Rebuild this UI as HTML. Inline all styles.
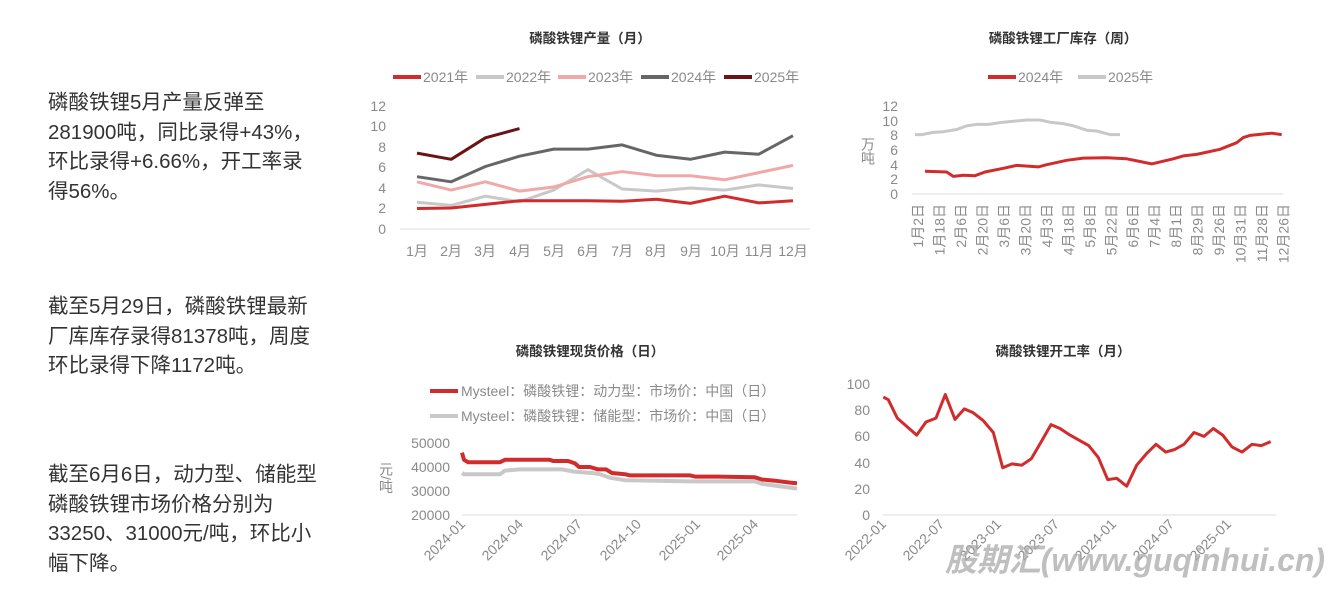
<!DOCTYPE html>
<html><head><meta charset="utf-8"><style>
body{margin:0;width:1344px;height:590px;background:#fff;overflow:hidden;position:relative;font-family:"Liberation Sans","Noto Sans CJK SC",sans-serif}
.t{position:absolute;left:48px;font-size:20.5px;color:#333;line-height:29.5px}
svg{position:absolute;left:0;top:0}
text{font-family:"Liberation Sans","Noto Sans CJK SC",sans-serif;fill:#8a8a8a;font-size:14px}
.ti{fill:#333;font-weight:bold;font-size:13.5px}
</style></head><body>
<div class="t" style="top:88px">磷酸铁锂5月产量反弹至<br>281900吨，同比录得+43%，<br>环比录得+6.66%，开工率录<br>得56%。</div>
<div class="t" style="top:292px">截至5月29日，磷酸铁锂最新<br>厂库库存录得81378吨，周度<br>环比录得下降1172吨。</div>
<div class="t" style="top:460px">截至6月6日，动力型、储能型<br>磷酸铁锂市场价格分别为<br>33250、31000元/吨，环比小<br>幅下降。</div>
<svg width="1344" height="590" id="s">
<text class="ti" x="590" y="43" text-anchor="middle">磷酸铁锂产量（月）</text>
<text class="ti" x="1063" y="43" text-anchor="middle">磷酸铁锂工厂库存（周）</text>
<text class="ti" x="590" y="356" text-anchor="middle">磷酸铁锂现货价格（日）</text>
<text class="ti" x="1063" y="356" text-anchor="middle">磷酸铁锂开工率（月）</text>
<g stroke-width="4">
<line x1="393" y1="77" x2="421" y2="77" stroke="#d22b2b"/><line x1="476" y1="77" x2="504" y2="77" stroke="#c8c8c8"/>
<line x1="558" y1="77" x2="586" y2="77" stroke="#f0a8a8"/><line x1="641" y1="77" x2="669" y2="77" stroke="#666"/>
<line x1="724" y1="77" x2="752" y2="77" stroke="#6b1416"/>
<line x1="988" y1="77" x2="1016" y2="77" stroke="#d22b2b"/><line x1="1078" y1="77" x2="1106" y2="77" stroke="#c8c8c8"/>
<line x1="430" y1="391" x2="458" y2="391" stroke="#d22b2b"/><line x1="430" y1="416" x2="458" y2="416" stroke="#c8c8c8"/>
</g>
<text x="423" y="82">2021年</text><text x="506" y="82">2022年</text><text x="588" y="82">2023年</text><text x="671" y="82">2024年</text><text x="754" y="82">2025年</text>
<text x="1018" y="82">2024年</text><text x="1108" y="82">2025年</text>
<text x="461" y="396">Mysteel：磷酸铁锂：动力型：市场价：中国（日）</text>
<text x="461" y="421">Mysteel：磷酸铁锂：储能型：市场价：中国（日）</text>
<line x1="400" y1="229" x2="810" y2="229" stroke="#ddd"/>
<g text-anchor="end"><text x="386" y="234">0</text><text x="386" y="213">2</text><text x="386" y="193">4</text><text x="386" y="172">6</text><text x="386" y="152">8</text><text x="386" y="131">10</text><text x="386" y="111">12</text></g>
<g text-anchor="middle"><text x="417" y="256">1月</text><text x="451" y="256">2月</text><text x="485" y="256">3月</text><text x="520" y="256">4月</text><text x="554" y="256">5月</text><text x="588" y="256">6月</text><text x="622" y="256">7月</text><text x="656" y="256">8月</text><text x="691" y="256">9月</text><text x="725" y="256">10月</text><text x="759" y="256">11月</text><text x="793" y="256">12月</text></g>
<line x1="912" y1="194" x2="1283" y2="194" stroke="#ddd"/>
<g text-anchor="end"><text x="898" y="199">0</text><text x="898" y="184">2</text><text x="898" y="170">4</text><text x="898" y="155">6</text><text x="898" y="140">8</text><text x="898" y="126">10</text><text x="898" y="111">12</text></g>
<text x="868" y="137" style="writing-mode:tb">万吨</text>
<g id="c2x"></g>
<line x1="462" y1="515" x2="797" y2="515" stroke="#ddd"/>
<g text-anchor="end"><text x="450" y="520">20000</text><text x="450" y="496">30000</text><text x="450" y="472">40000</text><text x="450" y="448">50000</text></g>
<text x="386" y="462" style="writing-mode:tb">元/吨</text>
<g text-anchor="end">
<text transform="translate(466,525) rotate(-45)">2024-01</text><text transform="translate(524,525) rotate(-45)">2024-04</text><text transform="translate(583,525) rotate(-45)">2024-07</text><text transform="translate(642,525) rotate(-45)">2024-10</text><text transform="translate(701,525) rotate(-45)">2025-01</text><text transform="translate(759,525) rotate(-45)">2025-04</text>
</g>
<line x1="883" y1="515" x2="1276" y2="515" stroke="#ddd"/>
<g text-anchor="end"><text x="870" y="520">0</text><text x="870" y="494">20</text><text x="870" y="468">40</text><text x="870" y="441">60</text><text x="870" y="415">80</text><text x="870" y="389">100</text></g>
<g text-anchor="end">
<text transform="translate(887,525) rotate(-45)">2022-01</text><text transform="translate(945,525) rotate(-45)">2022-07</text><text transform="translate(1002,525) rotate(-45)">2023-01</text><text transform="translate(1060,525) rotate(-45)">2023-07</text><text transform="translate(1117,525) rotate(-45)">2024-01</text><text transform="translate(1175,525) rotate(-45)">2024-07</text><text transform="translate(1232,525) rotate(-45)">2025-01</text>
</g>
<g id="lines" fill="none" stroke-width="3" stroke-linejoin="round"></g>
<text x="945" y="571" textLength="380" lengthAdjust="spacingAndGlyphs" style="font-size:32px;font-weight:bold;font-style:italic;fill:#aaa;opacity:.75">股期汇(www.guqinhui.cn)</text>
</svg>
<script>
var L=document.getElementById('lines'),ns='http://www.w3.org/2000/svg';
function pl(pts,c,w){var p=document.createElementNS(ns,'polyline');p.setAttribute('points',pts.map(a=>a[0].toFixed(1)+','+a[1].toFixed(1)).join(' '));p.setAttribute('stroke',c);if(w)p.setAttribute('stroke-width',w);L.appendChild(p);}
function c1(d,c){pl(d.map((v,i)=>[417+i*34.18,229-v*10.25]),c);}
c1([2.6,2.3,3.2,2.65,3.8,5.8,3.9,3.7,4.0,3.8,4.3,3.95],'#c8c8c8');
c1([4.6,3.8,4.6,3.7,4.1,5.1,5.6,5.2,5.2,4.8,5.5,6.2],'#f0a8a8');
c1([2.0,2.05,2.4,2.75,2.75,2.75,2.7,2.9,2.5,3.2,2.55,2.75],'#d22b2b');
c1([5.1,4.6,6.1,7.1,7.8,7.8,8.2,7.2,6.8,7.5,7.3,9.1],'#666');
c1([7.4,6.8,8.9,9.8],'#6b1416');
function c2(d,c){pl(d.map(a=>[850+a[0]/3,194-a[1]*7.33]),c);}
c2([[195,8.1],[215,8.1],[250,8.4],[280,8.5],[320,8.8],[350,9.3],[380,9.5],[415,9.5],[460,9.8],[530,10.1],[570,10.1],[600,9.8],[640,9.6],[670,9.3],[710,8.7],[740,8.6],[780,8.1],[810,8.1]],'#c8c8c8');
c2([[225,3.1],[290,3.0],[310,2.4],[340,2.55],[375,2.5],[405,3.0],[460,3.5],[500,3.9],[565,3.7],[590,4.0],[650,4.6],[700,4.9],[770,4.95],[830,4.8],[905,4.1],[970,4.8],[1000,5.2],[1040,5.4],[1110,6.1],[1160,7.0],[1180,7.7],[1200,8.0],[1265,8.3],[1295,8.1]],'#d22b2b');
function c3(d,c){pl(d.map(a=>[a[0],515-(a[1]-20000)*0.0024]),c,4);}
c3([[462,37500],[464,37000],[500,37000],[505,38500],[520,39000],[562,39000],[575,38000],[592,37500],[600,37000],[610,35500],[625,34500],[690,34000],[755,34000],[762,33000],[797,31000]],'#c8c8c8');
c3([[462,46000],[464,43000],[468,42000],[500,42000],[505,43000],[550,43000],[553,42500],[568,42500],[575,41500],[579,40000],[590,40000],[598,39000],[606,39000],[612,37500],[625,37000],[630,36500],[690,36500],[695,36000],[718,36000],[755,35700],[762,34800],[775,34300],[790,33500],[797,33250]],'#d22b2b');
var d4=[[130,90],[145,88],[172,74],[230,61],[258,71],[288,74],[316,92],[345,73],[373,81],[400,78],[430,72],[460,63],[488,36],[516,39],[545,38],[574,43],[604,56],[633,69],[660,66],[690,61],[718,57],[746,53],[775,44],[803,27],[830,28],[860,22],[890,38],[920,47],[948,54],[977,48],[1004,50],[1032,54],[1062,63],[1092,60],[1120,66],[1148,61],[1176,52],[1206,48],[1236,54],[1264,53],[1292,56]];
pl(d4.map(a=>[840+a[0]/3,515-a[1]*1.31]),'#d22b2b');
var labs=['1月2日','1月18日','2月6日','2月20日','3月6日','3月20日','4月3日','4月18日','5月8日','5月22日','6月6日','7月4日','8月1日','8月29日','9月26日','10月31日','11月28日','12月26日'];
var g=document.getElementById('c2x');
labs.forEach((s,i)=>{var t=document.createElementNS(ns,'text');var x=918+i*21.5;t.setAttribute('transform','translate('+(x+5)+',204) rotate(-90)');t.setAttribute('text-anchor','end');t.textContent=s;g.appendChild(t);});
</script>
</body></html>
